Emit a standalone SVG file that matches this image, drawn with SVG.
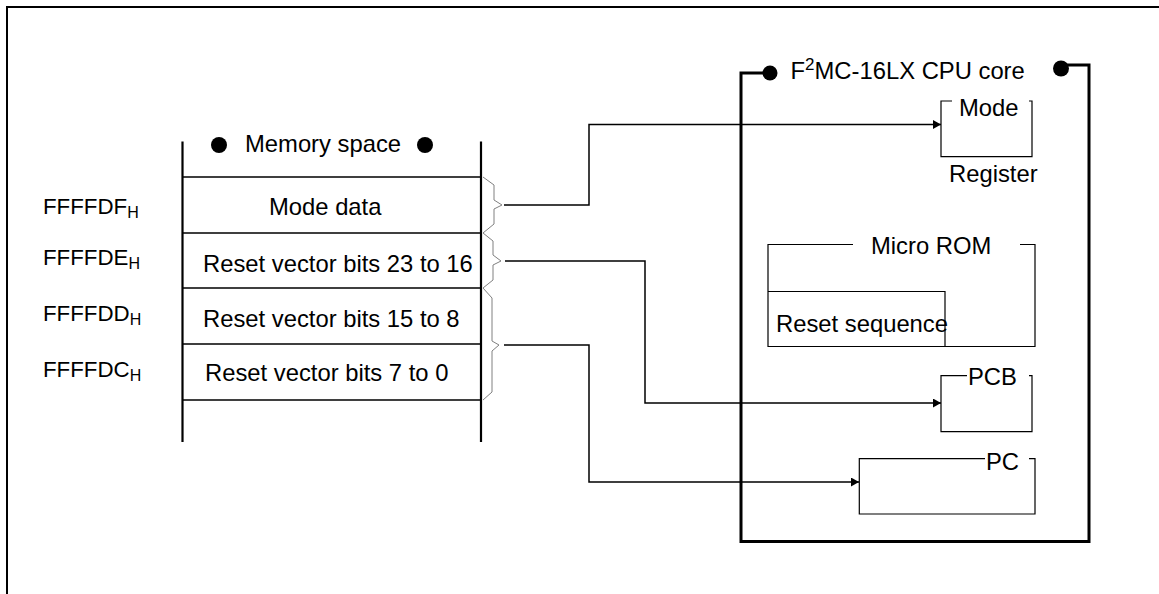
<svg xmlns="http://www.w3.org/2000/svg" width="1159" height="594" viewBox="0 0 1159 594">
<style>
text{font-family:"Liberation Sans",Arial,sans-serif;fill:#000}
.t{font-size:23.8px}
.a{font-size:22.3px}
.sub{font-size:16px}
.sup{font-size:17px}
.thin{fill:none;stroke:#000;stroke-width:1.2}
.mem{fill:none;stroke:#000;stroke-width:2.2}
.row{fill:none;stroke:#000;stroke-width:1.3}
.brace{fill:none;stroke:#808080;stroke-width:1}
.conn{fill:none;stroke:#000;stroke-width:1.5}
</style>
<defs>
<marker id="arr" markerUnits="userSpaceOnUse" markerWidth="10" markerHeight="10" refX="8" refY="4.5" orient="auto">
<path d="M0,0 L8,4.5 L0,9 Z" fill="#000"/>
</marker>
</defs>
<rect width="1159" height="594" fill="#fff"/>
<path d="M7,594 V7 H1160" fill="none" stroke="#000" stroke-width="2"/>

<g id="memory">
<path class="mem" d="M182.5,141.5 V442 M481,141.5 V442"/>
<path class="row" d="M182.5,177 H481 M182.5,233 H481 M182.5,288 H481 M182.5,344 H481 M182.5,400 H481"/>
<circle cx="219" cy="145" r="8"/>
<text class="t" x="245" y="152">Memory space</text>
<circle cx="425" cy="145" r="8"/>
<text class="t" x="269" y="215">Mode data</text>
<text class="t" x="203" y="272">Reset vector bits 23 to 16</text>
<text class="t" x="203" y="326.5">Reset vector bits 15 to 8</text>
<text class="t" x="205" y="380.5">Reset vector bits 7 to 0</text>
</g>

<g id="addresses">
<text class="a" x="43" y="214">FFFFDF<tspan class="sub" dy="4">H</tspan></text>
<text class="a" x="43" y="265">FFFFDE<tspan class="sub" dy="4">H</tspan></text>
<text class="a" x="43" y="320.5">FFFFDD<tspan class="sub" dy="4">H</tspan></text>
<text class="a" x="43" y="377">FFFFDC<tspan class="sub" dy="4">H</tspan></text>
</g>

<g id="braces">
<path class="brace" d="M483,177 L494,185 L494,200 L502,205 L494,209 L494,224 L483,233"/>
<path class="brace" d="M483,233 L493,241 L493,255 L501,261 L493,265 L493,280 L483,288"/>
<path class="brace" d="M483,288 L492,298 L492,341 L499,345 L492,351 L492,392 L483,400"/>
</g>

<g id="cpu">
<path d="M770,73 H741 V541.5 H1089 V65 H1061" fill="none" stroke="#000" stroke-width="3"/>
<circle cx="770" cy="73" r="7.5"/>
<circle cx="1061" cy="68.5" r="8"/>
<text class="t" x="790.5" y="79">F<tspan class="sup" dy="-9">2</tspan><tspan dy="9">MC-16LX CPU core</tspan></text>
</g>

<g id="mode-register">
<path class="thin" d="M952,101 H941 V156.7 H1032 V101 H1029"/>
<text class="t" x="959" y="116">Mode</text>
<text class="t" x="949" y="182">Register</text>
</g>

<g id="micro-rom">
<path class="thin" d="M853,244.5 H768 V346.5 H1035 V244.5 H1020"/>
<text class="t" x="871" y="253.5">Micro ROM</text>
</g>

<g id="reset-sequence">
<path class="thin" d="M768,291.5 H945 V346.5"/>
<text class="t" x="776" y="332">Reset sequence</text>
</g>

<g id="pcb">
<path class="thin" d="M967,375.7 H941 V431.7 H1032 V375.7 H1029"/>
<text class="t" x="968" y="384.5">PCB</text>
</g>

<g id="pc">
<path class="thin" d="M985,458.7 H859.3 V514 H1035 V458.7 H1029"/>
<text class="t" x="986" y="470">PC</text>
</g>

<g id="connectors">
<path class="conn" d="M504,205 H589 V124.5 H941" marker-end="url(#arr)"/>
<path class="conn" d="M505,261 H645 V403 H941" marker-end="url(#arr)"/>
<path class="conn" d="M504,345 H589 V482 H859" marker-end="url(#arr)"/>
</g>
</svg>
